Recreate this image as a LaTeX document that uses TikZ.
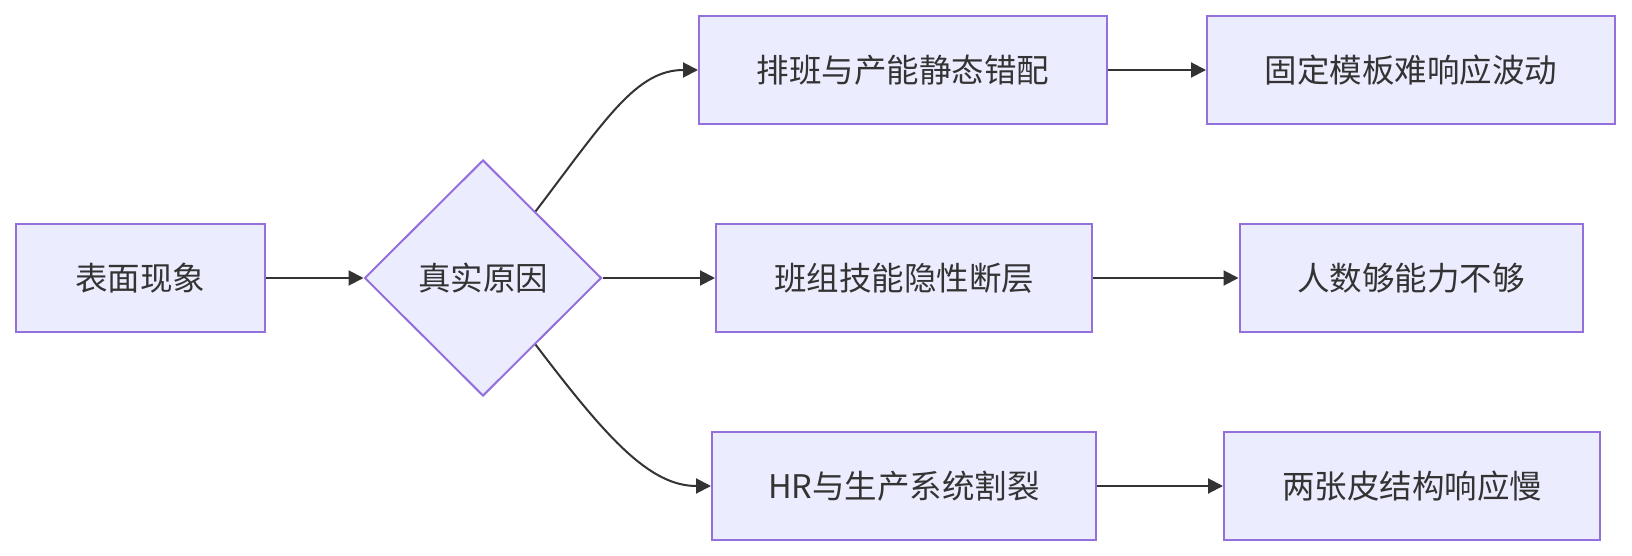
\documentclass[tikz,border=0pt]{standalone}
\usepackage{fontspec}
\setmainfont{Noto Sans CJK SC}
\usetikzlibrary{
    arrows.meta,
    calc,
    shapes.geometric
}
\definecolor{boxfill}{HTML}{ECECFF}
\definecolor{boxline}{HTML}{9370DB}
\definecolor{linkcol}{HTML}{333333}

\begin{document}
\begin{tikzpicture}[
      x=1pt, y=-1pt,
      box/.style={draw=boxline, fill=boxfill, line width=2pt, rectangle, minimum height=108pt, inner sep=0pt, text=linkcol, font=\fontsize{32.5}{38}\selectfont},
      choice/.style={draw=boxline, fill=boxfill, line width=2pt, diamond, minimum width=237pt, minimum height=236pt, inner sep=0pt, text=linkcol, font=\fontsize{32.5}{38}\selectfont},
      link/.style={draw=linkcol, line width=2pt, -{Triangle[length=15pt,width=15pt]}}]
    \path[use as bounding box] (0,0) rectangle (1632,556);
    \node[box, minimum width=249pt] (surface) at (140,278) {表面现象};
    \node[choice] (cause) at (483,278) {真实原因};
    \node[box, minimum width=408pt] (sched) at (903,70) {排班与产能静态错配};
    \node[box, minimum width=376pt] (skill) at (904,278) {班组技能隐性断层};
    \node[box, minimum width=384pt] (split) at (904,486) {HR与生产系统割裂};
    \node[box, minimum width=408pt] (fixed) at (1411,70) {固定模板难响应波动};
    \node[box, minimum width=343pt] (ability) at (1411,278) {人数够能力不够};
    \node[box, minimum width=376pt] (slow) at (1412,486) {两张皮结构响应慢};
    \coordinate (upout) at ($(cause.north)!0.44!(cause.east)$);
    \coordinate (downout) at ($(cause.south)!0.44!(cause.east)$);
    \draw[link] (surface) -- (cause);
    \draw[link] (upout) .. controls +(70,-92) and +(-62,0) .. (sched.west);
    \draw[link] (cause) -- (skill);
    \draw[link] (downout) .. controls +(70,92) and +(-62,0) .. (split.west);
    \draw[link] (sched) -- (fixed);
    \draw[link] (skill) -- (ability);
    \draw[link] (split) -- (slow);
  \end{tikzpicture}
\end{document}
